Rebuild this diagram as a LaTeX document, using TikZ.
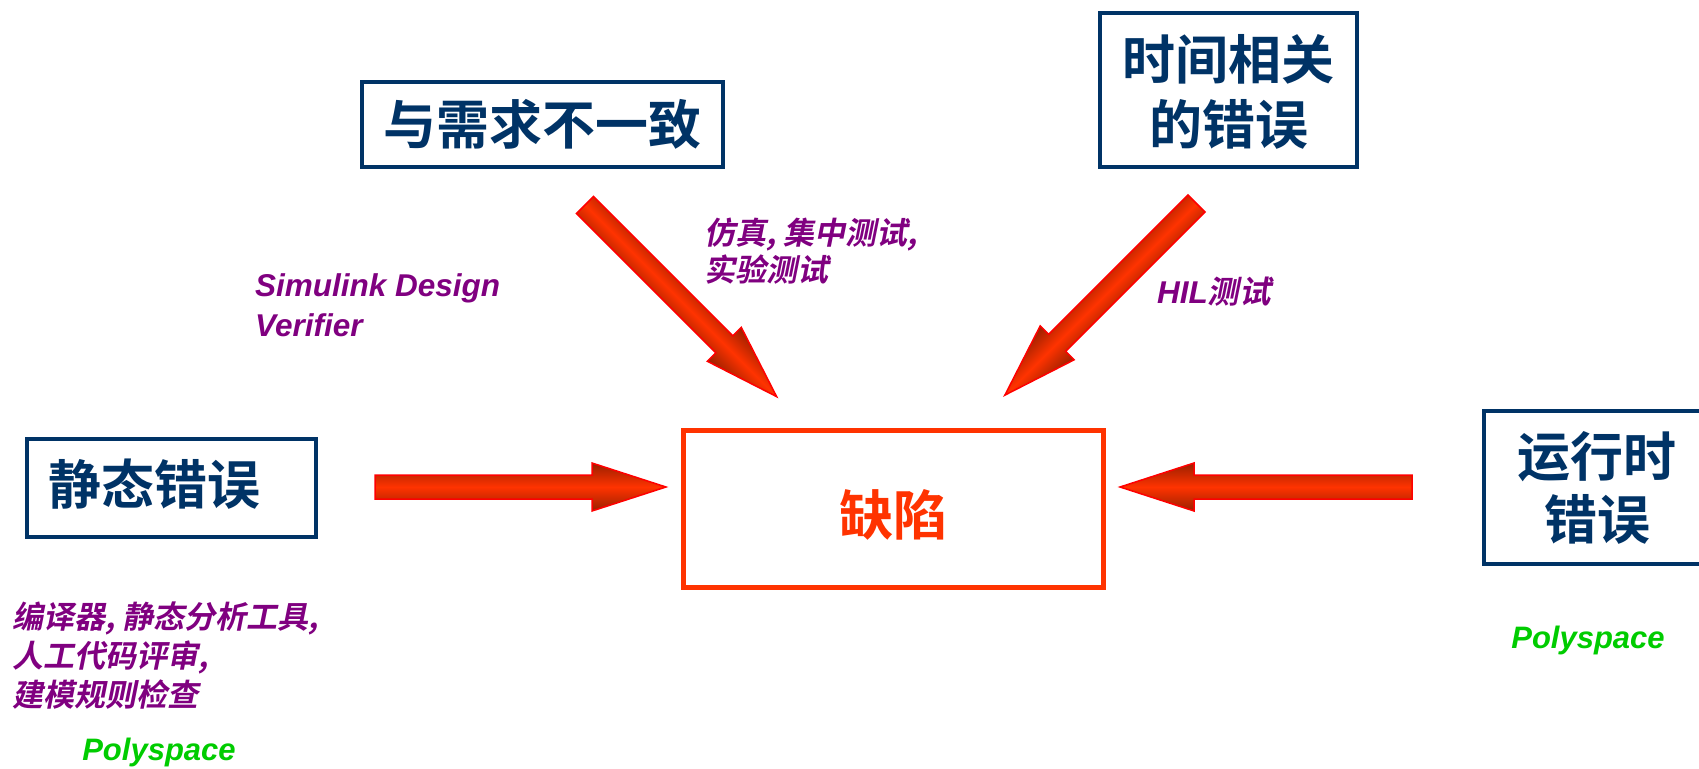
\documentclass[tikz,border=0pt]{standalone}
\usepackage{fontspec}
\setmainfont{Liberation Sans}
\newfontfamily\cjkb{Noto Sans CJK SC Bold}
\newfontfamily\cjksl[FakeSlant=0.2]{Noto Sans CJK SC Bold}
\newfontfamily\latbi[FakeSlant=0]{Liberation Sans Bold Italic}
\definecolor{navy}{HTML}{003366}
\definecolor{defred}{HTML}{FF3300}
\definecolor{purp}{HTML}{800080}
\definecolor{grn}{HTML}{00CC00}
\definecolor{arrdark}{HTML}{9A2000}
\tikzset{
  box/.style={draw=navy, line width=4pt, fill=white, inner sep=0pt},
  boxtext/.style={text=navy, font=\cjkb\fontsize{53}{65}\selectfont, align=center, inner sep=0pt},
  note/.style={text=purp, font=\cjksl\fontsize{31}{38}\selectfont, align=left, inner sep=0pt, anchor=west},
  latnote/.style={text=purp, font=\latbi\fontsize{31.5}{40}\selectfont, align=left, inner sep=0pt, anchor=west},
  tool/.style={text=grn, font=\latbi\fontsize{31}{36}\selectfont, inner sep=0pt, anchor=base},
  blockarrow/.style={draw=red, line width=1.5pt, line join=miter, top color=arrdark, bottom color=arrdark, middle color=defred},
}
\newcommand\redblockarrow[3]{%
  \begin{scope}[transform canvas={shift={#1}, rotate=#2}]
    \path[blockarrow] (0,-12) -- ({#3-74},-12) -- ({#3-74},-24) -- (#3,0) -- ({#3-74},24) -- ({#3-74},12) -- (0,12) -- cycle;
  \end{scope}}
\begin{document}
\begin{tikzpicture}[x=1pt, y=-1pt]
\useasboundingbox (0,0) rectangle (1699,768);
\clip (0,0) rectangle (1699,768);
\fill[white] (0,0) rectangle (1699,768);

% boxes
\node[box, minimum width=361, minimum height=85] (req) at (542.5,124.5) {};
\node[boxtext] (reqtext) at (req.center) {与需求不一致};
\node[box, minimum width=257, minimum height=154] (time) at (1228.5,90) {};
\node[boxtext] (timetext) at (1228.5,91.5) {时间相关\\的错误};
\node[box, minimum width=289, minimum height=98] (static) at (171.5,488) {};
\node[boxtext] (statictext) at (154,484) {静态错误};
\node[box, minimum width=226, minimum height=153] (runtime) at (1597,487.5) {};
\node[boxtext, font=\cjkb\fontsize{53}{63}\selectfont] (runtimetext) at (runtime.center) {运行时\\错误};
\node[draw=defred, line width=5pt, minimum width=420, minimum height=157, inner sep=0pt] (defect) at (893,508.5) {};
\node[text=defred, font=\cjkb\fontsize{54}{60}\selectfont, inner sep=0pt] (defecttext) at (893,515) {缺陷};

% arrows
\redblockarrow{(375,487)}{0}{291}
\redblockarrow{(1412,487)}{180}{292}
\redblockarrow{(585,205)}{-45}{271}
\redblockarrow{(1196.5,203.5)}{-135}{271}

% notes
\node[latnote] (sldv) at (255,305) {Simulink Design\\Verifier};
\node[note, font=\cjksl\fontsize{31}{37}\selectfont] (sim) at (704,251) {仿真, 集中测试,\\实验测试};
\node[latnote] (hil) at (1157,292) {HIL{\cjksl 测试}};
\node[note, font=\cjksl\fontsize{31}{39}\selectfont] (stat) at (12,656) {编译器, 静态分析工具,\\人工代码评审,\\建模规则检查};
\node[tool] (ps1) at (159,760) {Polyspace};
\node[tool] (ps2) at (1588,648) {Polyspace};
\end{tikzpicture}
\end{document}
